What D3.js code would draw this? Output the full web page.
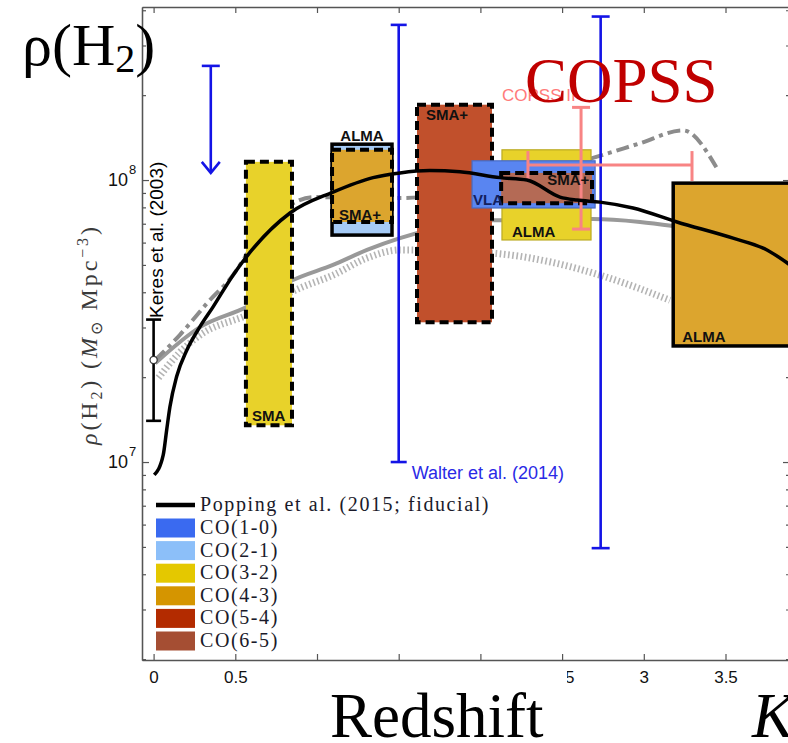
<!DOCTYPE html>
<html><head><meta charset="utf-8">
<script src="https://cdn.jsdelivr.net/npm/d3@7"></script>
<style>body{margin:0;background:#fff}svg{display:block}</style>
</head><body><svg id="chart" width="788" height="743"></svg>
<script>
// Model curves: molecular gas density vs redshift
const poppingZ   = [0.004,0.059,0.080,0.100,0.141,0.203,0.284,0.364,0.486,0.602,0.835,1.098,1.343,1.508,1.69,1.875,2.12,2.285,2.487,2.591,2.732,2.934,3.203,3.546,3.754,3.895];
const poppingRho = [9.0e6,1.06e7,1.30e7,1.57e7,2.01e7,2.49e7,3.02e7,3.55e7,4.6e7,5.65e7,7.64e7,9.06e7,1.02e8,1.06e8,1.08e8,1.07e8,1.02e8,1.0e8,8.7e7,8.49e7,8.35e7,7.96e7,7.1e7,6.22e7,5.65e7,5.0e7];

const solidGreyZ   = [0.01,0.284,0.572,0.853,1.098,1.306,1.508,2.077,2.69,2.977,3.18];
const solidGreyRho = [2.24e7,3.01e7,3.55e7,4.42e7,5.0e7,5.65e7,6.22e7,7.2e7,7.27e7,7.1e7,6.87e7];

const dashGreyZ   = [0.01,0.16,0.333,0.486,0.602,0.855,0.977,1.496,2.714,2.793,2.977,3.24,3.448];
const dashGreyRho = [2.3e7,2.82e7,3.69e7,4.6e7,5.8e7,8.28e7,8.7e7,8.63e7,1.21e8,1.25e8,1.35e8,1.50e8,1.10e8];

const hatchGreyZ   = [0.03,0.16,0.284,0.572,0.896,1.098,1.306,1.508,2.077,2.43,2.732,3.16];
const hatchGreyRho = [1.99e7,2.45e7,2.82e7,3.32e7,4.14e7,4.6e7,5.29e7,5.65e7,5.5e7,5.12e7,4.6e7,3.75e7];

// Survey constraints (redshift range x density range), drawn in this order
const boxSurvey  = ["SMA","ALMA","SMA+","SMA+","ALMA","VLA","SMA+","ALMA"];
const boxLine    = ["CO(3-2)","CO(2-1)","CO(4-3)","CO(5-4)","CO(3-2)","CO(1-0)","CO(6-5)","CO(4-3)"];
const boxZLow    = [0.565,1.092,1.092,1.612,2.132,1.949,2.127,3.18];
const boxZHigh   = [0.847,1.459,1.459,2.071,2.677,2.702,2.683,4.0];
const boxRhoLow  = [1.35e7,6.38e7,7.1e7,3.13e7,6.13e7,7.96e7,8.28e7,2.58e7];
const boxRhoHigh = [1.16e8,1.34e8,1.28e8,1.85e8,1.28e8,1.17e8,1.06e8,9.75e7];

// Keres et al. (2003) local measurement
const keresZ = [0.0], keresRho = [2.3e7], keresLow = [1.4e7], keresHigh = [3.2e7];

// Walter et al. (2014) ranges and upper limit
const walterZ = [1.5, 2.736], walterLow = [1.0e7, 4.95e6], walterHigh = [3.55e8, 3.8e8];
const limitZ = [0.35], limitFrom = [2.54e8], limitTo = [1.06e8];

// COPSS II
const copssZ = [2.616], copssZLow = [2.291], copssZHigh = [3.295];
const copssRho = [1.13e8], copssLow = [6.7e7], copssHigh = [1.81e8];

// Axes (labels under the title block are left blank)
const zTicks = [0,0.5,1,1.5,2,2.5,3,3.5];
const zTickLabels = ["0","0.5","","","","2.5","3","3.5"];
const rhoMajor = [1e7,1e8];
const rhoMajorExp = ["7","8"];
const rhoMinor = [2e6,3e6,4e6,5e6,6e6,7e6,8e6,9e6,2e7,3e7,4e7,5e7,6e7,7e7,8e7,9e7,2e8,3e8,4e8];

const legendLabels = ["CO(1-0)","CO(2-1)","CO(3-2)","CO(4-3)","CO(5-4)","CO(6-5)"];
const legendColors = {"CO(1-0)":"#3a6af0","CO(2-1)":"#8cbff9","CO(3-2)":"#e4c800","CO(4-3)":"#d59500","CO(5-4)":"#b32b00","CO(6-5)":"#a54e33"};
const boxFill = {"CO(1-0)":"#5985f1","CO(2-1)":"#a6cbf6","CO(3-2)":"#e8d22a","CO(4-3)":"#dca52e","CO(5-4)":"#c1502c","CO(6-5)":"#b46a55"};

const L = 142, R = 790, T = 7, B = 660;
const svg = d3.select("#chart");
const x = d3.scaleLinear().domain([(L-153.6)/163.4, (R-153.6)/163.4]).range([L, R]);
const y = d3.scaleLog().domain([1.986e6, 4.108e8]).range([B, T]);

const axisCol = "#555";
function styleAxis(g){
  g.selectAll("path.domain").attr("stroke", axisCol).attr("stroke-width", 1.3);
  g.selectAll(".tick line").attr("stroke", axisCol).attr("stroke-width", 1.2);
}

// frame with inward ticks
const gxb = svg.append("g").attr("transform",`translate(0,${B})`)
  .call(d3.axisBottom(x).tickValues(zTicks).tickFormat((d,i)=>zTickLabels[i]).tickSizeInner(-6).tickSizeOuter(0).tickPadding(11));
gxb.selectAll("text").attr("font-family","Liberation Sans, Arial, sans-serif").attr("font-size",17).attr("fill","#111");
styleAxis(gxb);
const gxt = svg.append("g").attr("transform",`translate(0,${T})`)
  .call(d3.axisTop(x).tickValues(zTicks).tickFormat("").tickSizeInner(-6).tickSizeOuter(0));
styleAxis(gxt);
[[L, d3.axisLeft],[R, d3.axisRight]].forEach(([px, ax])=>{
  const g1 = svg.append("g").attr("transform",`translate(${px},0)`)
    .call(ax(y).tickValues(rhoMinor).tickFormat("").tickSizeInner(-4).tickSizeOuter(0));
  styleAxis(g1);
  const g2 = svg.append("g").attr("transform",`translate(${px},0)`)
    .call(ax(y).tickValues(rhoMajor).tickFormat("").tickSizeInner(-7).tickSizeOuter(0));
  styleAxis(g2);
});
// y tick labels 10^n
rhoMajor.forEach((v,i)=>{
  svg.append("text").attr("x",128).attr("y",y(v)+6).attr("text-anchor","end")
    .attr("font-family","Liberation Sans, Arial, sans-serif").attr("font-size",18).attr("fill","#111").text("10");
  svg.append("text").attr("x",129).attr("y",y(v)-6)
    .attr("font-family","Liberation Sans, Arial, sans-serif").attr("font-size",13).attr("fill","#111").text(rhoMajorExp[i]);
});

const line = (zs, rs) => d3.line().x((d,i)=>x(zs[i])).y((d,i)=>y(rs[i])).curve(d3.curveMonotoneX)(zs);

// grey model curves (behind the boxes)
svg.append("path").attr("d", line(hatchGreyZ, hatchGreyRho)).attr("fill","none")
  .attr("stroke","#b4b4b4").attr("stroke-width",7).attr("stroke-dasharray","1.6,2.6");
svg.append("path").attr("d", line(solidGreyZ, solidGreyRho)).attr("fill","none")
  .attr("stroke","#999").attr("stroke-width",4);
svg.append("path").attr("d", line(dashGreyZ, dashGreyRho)).attr("fill","none")
  .attr("stroke","#8c8c8c").attr("stroke-width",4).attr("stroke-dasharray","13,5,4,5");

// survey boxes
const boxStroke = ["dash","solid","dash","dash","thin","thin","dash","solid"];
boxSurvey.forEach((s,i)=>{
  const x0 = x(boxZLow[i]), x1 = x(boxZHigh[i]), y0 = y(boxRhoHigh[i]), y1 = y(boxRhoLow[i]);
  const r = svg.append("rect").attr("x",x0).attr("y",y0).attr("width",x1-x0).attr("height",y1-y0)
    .attr("fill", boxFill[boxLine[i]]);
  if (boxStroke[i]==="dash") r.attr("stroke","#000").attr("stroke-width",4).attr("stroke-dasharray","9,5");
  else if (boxStroke[i]==="solid") r.attr("stroke","#000").attr("stroke-width",3.5);
  else r.attr("stroke", d3.color(boxFill[boxLine[i]]).darker(0.6)).attr("stroke-width",1.2);
});

// Walter et al. ranges
const blue = "#1414e6";
walterZ.forEach((z,i)=>{
  const g = svg.append("g").attr("stroke",blue).attr("stroke-width",2.6).attr("fill","none");
  g.append("line").attr("x1",x(z)).attr("x2",x(z)).attr("y1",y(walterHigh[i])).attr("y2",y(walterLow[i]));
  const c = i===0 ? 8 : 9;
  [walterHigh[i], walterLow[i]].forEach(v=>g.append("line").attr("x1",x(z)-c).attr("x2",x(z)+c).attr("y1",y(v)).attr("y2",y(v)));
});
limitZ.forEach((z,i)=>{
  const g = svg.append("g").attr("stroke",blue).attr("stroke-width",2.6).attr("fill","none");
  g.append("line").attr("x1",x(z)).attr("x2",x(z)).attr("y1",y(limitFrom[i])).attr("y2",y(limitTo[i]));
  g.append("line").attr("x1",x(z)-9).attr("x2",x(z)+9).attr("y1",y(limitFrom[i])).attr("y2",y(limitFrom[i]));
  g.append("path").attr("d",`M${x(z)-9},${y(limitTo[i])-11}L${x(z)},${y(limitTo[i])}L${x(z)+9},${y(limitTo[i])-11}`);
});

// Keres et al. point
keresZ.forEach((z,i)=>{
  const g = svg.append("g").attr("stroke","#000").attr("stroke-width",2.6);
  g.append("line").attr("x1",x(z)).attr("x2",x(z)).attr("y1",y(keresHigh[i])).attr("y2",y(keresLow[i]));
  [keresHigh[i], keresLow[i]].forEach(v=>g.append("line").attr("x1",x(z)-7.5).attr("x2",x(z)+7.5).attr("y1",y(v)).attr("y2",y(v)));
  svg.append("circle").attr("cx",x(z)).attr("cy",y(keresRho[i])).attr("r",3.6).attr("fill","#fff").attr("stroke","#333").attr("stroke-width",1.2);
});

// COPSS II
const salmon = "#f88484";
copssZ.forEach((z,i)=>{
  const g = svg.append("g").attr("stroke",salmon).attr("stroke-width",3);
  g.append("line").attr("x1",x(z)).attr("x2",x(z)).attr("y1",y(copssHigh[i])).attr("y2",y(copssLow[i]));
  [copssHigh[i], copssLow[i]].forEach(v=>g.append("line").attr("x1",x(z)-9).attr("x2",x(z)+9).attr("y1",y(v)).attr("y2",y(v)));
  g.append("line").attr("x1",x(copssZLow[i])).attr("x2",x(copssZHigh[i])).attr("y1",y(copssRho[i])).attr("y2",y(copssRho[i]));
  [copssZLow[i], copssZHigh[i]].forEach(v=>g.append("line").attr("x1",x(v)).attr("x2",x(v)).attr("y1",y(copssRho[i])-14).attr("y2",y(copssRho[i])+16));
});

// Popping et al. fiducial model
svg.append("path").attr("d", line(poppingZ, poppingRho)).attr("fill","none")
  .attr("stroke","#000").attr("stroke-width",3.5);

// box labels
const labelPos = [
  {i:0, dx:6, yv:"low", dy:-4},
  {i:1, dx:null, yv:"high", dy:-3},
  {i:2, dx:7, yv:"low", dy:-2},
  {i:3, dx:9, yv:"high", dy:15},
  {i:4, dx:10, yv:"low", dy:-3},
  {i:5, dx:1, yv:"low", dy:-3},
  {i:6, dx:46, yv:"low", dy:-18},
  {i:7, dx:9, yv:"low", dy:-4}
];
labelPos.forEach(p=>{
  const i = p.i;
  const t = svg.append("text").attr("font-family","Liberation Sans, Arial, sans-serif").attr("font-weight","bold")
    .attr("font-size",15).attr("fill", boxSurvey[i]==="VLA" ? "#132060" : "#111").text(boxSurvey[i]);
  const yy = (p.yv==="low" ? y(boxRhoLow[i]) : y(boxRhoHigh[i])) + p.dy;
  if (p.dx===null) t.attr("x",(x(boxZLow[i])+x(boxZHigh[i]))/2).attr("text-anchor","middle").attr("y",yy);
  else t.attr("x",x(boxZLow[i])+p.dx).attr("y",yy);
});

// legend
const serif = "Liberation Serif, Times New Roman, serif";
svg.append("line").attr("x1",156).attr("x2",195).attr("y1",505).attr("y2",505).attr("stroke","#000").attr("stroke-width",4.5);
svg.append("text").attr("x",200).attr("y",511).attr("font-family",serif).attr("font-size",20).attr("letter-spacing",1.6)
  .attr("fill","#1a1a2a").text("Popping et al. (2015; fiducial)");
legendLabels.forEach((lab,i)=>{
  const cy = 528 + i*22.6;
  svg.append("rect").attr("x",156).attr("y",cy-9.5).attr("width",39).attr("height",19).attr("fill",legendColors[lab]);
  svg.append("text").attr("x",200).attr("y",cy+6).attr("font-family",serif).attr("font-size",20).attr("letter-spacing",1.6)
    .attr("fill","#1a1a2a").text(lab);
});

// axis title
const yl = svg.append("text").attr("transform","translate(97,336) rotate(-90)").attr("text-anchor","middle")
  .attr("font-family",serif).attr("font-size",24).attr("fill","#3a3a3a")
  .attr("textLength",218).attr("lengthAdjust","spacing");
yl.append("tspan").attr("font-style","italic").text("ρ");
yl.append("tspan").text("(H");
yl.append("tspan").attr("font-size",16).attr("dy",5).text("2");
yl.append("tspan").attr("dy",-5).text(")  (");
yl.append("tspan").attr("font-style","italic").text("M");
yl.append("tspan").attr("font-size",16).attr("dy",5).text("⊙");
yl.append("tspan").attr("dy",-5).text("  Mpc");
yl.append("tspan").attr("font-size",16).attr("dy",-9).text("−3");
yl.append("tspan").attr("dy",9).text(")");

// annotations
svg.append("text").attr("transform",`translate(${x(keresZ[0])+9},318) rotate(-90)`)
  .attr("font-family","Liberation Sans, Arial, sans-serif").attr("font-size",19).attr("fill","#000").text("Keres et al. (2003)");
svg.append("text").attr("x",x(walterZ[0])+13).attr("y",479)
  .attr("font-family","Liberation Sans, Arial, sans-serif").attr("font-size",18).attr("fill","#2a2ae6").text("Walter et al. (2014)");
svg.append("text").attr("x",502).attr("y",101)
  .attr("font-family","Liberation Sans, Arial, sans-serif").attr("font-size",17).attr("fill","#ff7a7a").text("COPSS II");
svg.append("text").attr("x",525).attr("y",102).attr("font-family",serif).attr("font-size",63).attr("fill","#c00000").text("COPSS");

// large titles
const rt = svg.append("text").attr("x",22).attr("y",65).attr("font-family",serif).attr("font-size",60).attr("fill","#000");
rt.append("tspan").text("ρ(H");
rt.append("tspan").attr("font-size",40).attr("dy",7).text("2");
rt.append("tspan").attr("dy",-7).text(")");

svg.append("rect").attr("x",258).attr("y",665).attr("width",309).attr("height",78).attr("fill","#fff");
svg.append("text").attr("x",330).attr("y",737).attr("font-family",serif).attr("font-size",63).attr("fill","#000").text("Redshift");
svg.append("text").attr("x",752).attr("y",737).attr("font-family",serif).attr("font-style","italic").attr("font-size",63).attr("fill","#000").text("K");
</script></body></html>
